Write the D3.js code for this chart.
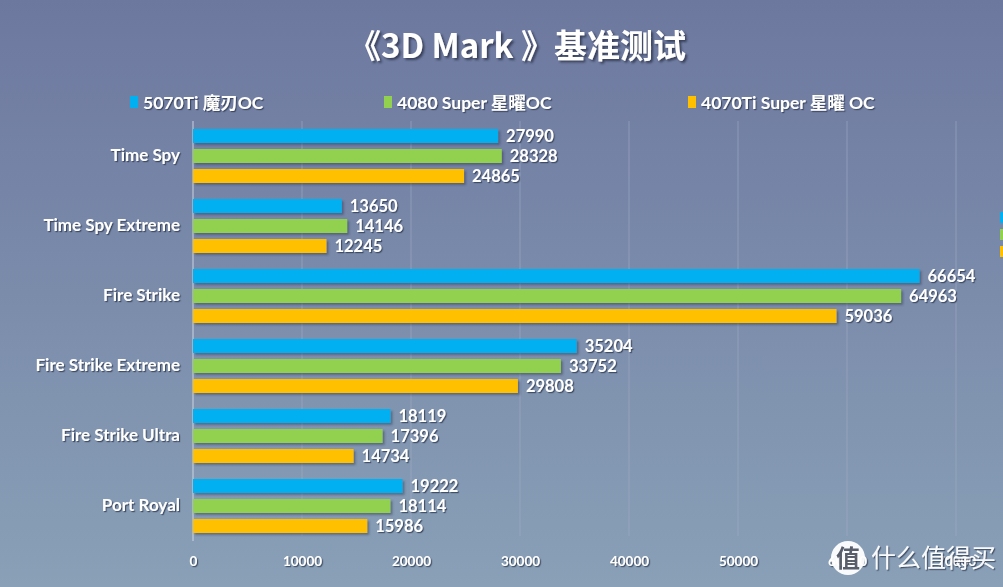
<!DOCTYPE html>
<html>
<head>
<meta charset="utf-8">
<script src="https://cdn.jsdelivr.net/npm/d3@7/dist/d3.min.js"></script>
<style>
html,body{margin:0;padding:0;overflow:hidden;background:#7a8aad;}
svg{display:block;}
text{font-family:Lato,"Noto Sans CJK SC",sans-serif;font-weight:700;fill:#fff;}
</style>
</head>
<body>
<svg id="chart" width="1003" height="587"></svg>
<script>
const categories = ["Time Spy","Time Spy Extreme","Fire Strike","Fire Strike Extreme","Fire Strike Ultra","Port Royal"];
const seriesNames = ["5070Ti 魔刃OC","4080 Super 星曜OC","4070Ti Super 星曜 OC"];
const seriesColors = ["#00B0F0","#92D050","#FFC000"];
const s5070Ti = [27990,13650,66654,35204,18119,19222];
const s4080Super = [28328,14146,64963,33752,17396,18114];
const s4070TiSuper = [24865,12245,59036,29808,14734,15986];
const tickValues = [0,10000,20000,30000,40000,50000,60000,70000];
const titleText = "《3D Mark 》基准测试";

const seriesValues = [s5070Ti, s4080Super, s4070TiSuper];
const W = 1003, H = 587;
const svg = d3.select("#chart");
const defs = svg.append("defs");

const grad = defs.append("linearGradient").attr("id","bg").attr("x1",0).attr("y1",0).attr("x2",0).attr("y2",1);
grad.append("stop").attr("offset","0%").attr("stop-color","#6D789F");
grad.append("stop").attr("offset","100%").attr("stop-color","#89A0B7");

const sh = defs.append("filter").attr("id","barShadow").attr("x","-5%").attr("y","-50%").attr("width","115%").attr("height","220%");
sh.append("feDropShadow").attr("dx",2).attr("dy",2).attr("stdDeviation",1.2).attr("flood-color","#2a3450").attr("flood-opacity",0.45);
const ts = defs.append("filter").attr("id","textShadow").attr("x","-10%").attr("y","-30%").attr("width","130%").attr("height","170%");
ts.append("feDropShadow").attr("dx",1.2).attr("dy",1.2).attr("stdDeviation",0.6).attr("flood-color","#333a55").attr("flood-opacity",0.8);
const ts2 = defs.append("filter").attr("id","titleShadow").attr("x","-10%").attr("y","-30%").attr("width","130%").attr("height","170%");
ts2.append("feDropShadow").attr("dx",2).attr("dy",2).attr("stdDeviation",1).attr("flood-color","#2f3550").attr("flood-opacity",0.85);

svg.append("rect").attr("width",W).attr("height",H).attr("fill","url(#bg)");

// title
svg.append("text").attr("x",517).attr("y",58).attr("text-anchor","middle")
  .style("font-family","'Noto Sans CJK SC',sans-serif").style("font-size","33px").style("font-weight",700)
  .attr("filter","url(#titleShadow)").text(titleText);

// legend
const legendX = [130, 384, 688];
const lg = svg.append("g");
seriesNames.forEach((n,i)=>{
  lg.append("rect").attr("x",legendX[i]).attr("y",96).attr("width",8).attr("height",12).attr("fill",seriesColors[i]);
  lg.append("text").attr("x",legendX[i]+13).attr("y",108.5).style("font-size","17.5px")
    .attr("filter","url(#textShadow)").text(n);
});

// right-edge cut legend fragment
[212,229,246].forEach((y,i)=>{
  svg.append("rect").attr("x",1000).attr("y",y).attr("width",3).attr("height",11).attr("fill",seriesColors[i]);
});

const x = d3.scaleLinear().domain([0,70000]).range([193,956]);
const y = d3.scaleBand().domain(categories).range([121,541]);
const yi = d3.scaleBand().domain(d3.range(3)).range([5,65]).paddingInner(0.3).paddingOuter(0.15);

// gridlines
const grid = svg.append("g");
grid.selectAll("line").data(tickValues).join("line")
  .attr("x1",d=>x(d)).attr("x2",d=>x(d)).attr("y1",121).attr("y2",d=>d===0?541:536)
  .attr("stroke",d=>d===0?"#d6dbe6":"#a4aec6").attr("stroke-width",1).attr("opacity",d=>d===0?0.9:0.55);

// x axis
const xAxis = d3.axisBottom(x).tickValues(tickValues).tickSize(0).tickFormat(d3.format("d"));
const ax = svg.append("g").attr("transform","translate(0,553)").call(xAxis);
ax.select(".domain").remove();
ax.selectAll("text").style("font-size","13.5px").style("font-family","Lato,'Noto Sans CJK SC',sans-serif").style("font-weight",700)
  .attr("fill","#fff").attr("dy","0.71em").attr("filter","url(#textShadow)");

// y axis labels
const yAxis = d3.axisLeft(y).tickSize(0).tickPadding(13);
const ay = svg.append("g").attr("transform","translate(193,0)").call(yAxis);
ay.select(".domain").remove();
ay.selectAll("text").style("font-size","17px").style("font-family","Lato,'Noto Sans CJK SC',sans-serif").style("font-weight",700)
  .attr("fill","#fff").attr("filter","url(#textShadow)");

// bars
const groups = svg.append("g").selectAll("g").data(categories).join("g")
  .attr("transform",c=>`translate(0,${y(c)})`);
groups.each(function(c,ci){
  const g = d3.select(this);
  seriesValues.forEach((vals,si)=>{
    g.append("rect").attr("x",x(0)).attr("y",yi(si)).attr("width",x(vals[ci])-x(0)).attr("height",yi.bandwidth())
      .attr("fill",seriesColors[si]).attr("filter","url(#barShadow)");
  });
  seriesValues.forEach((vals,si)=>{
    g.append("text").attr("x",x(vals[ci])+8).attr("y",yi(si)+yi.bandwidth()/2).attr("dy","0.36em")
      .style("font-size","16.5px").attr("filter","url(#textShadow)").text(vals[ci]);
  });
});

// watermark
const wm = svg.append("g").attr("opacity",0.95);
wm.append("circle").attr("cx",848).attr("cy",558).attr("r",17).attr("fill","#fff");
wm.append("text").attr("x",848).attr("y",567).attr("text-anchor","middle")
  .style("font-family","'Noto Sans CJK SC',sans-serif").style("font-size","24px").style("font-weight",700).style("fill","#555a66").text("值");
wm.append("text").attr("x",871).attr("y",567)
  .style("font-family","'Noto Sans CJK SC',sans-serif").style("font-size","25px").style("font-weight",400)
  .attr("filter","url(#textShadow)").text("什么值得买");
</script>
</body>
</html>
